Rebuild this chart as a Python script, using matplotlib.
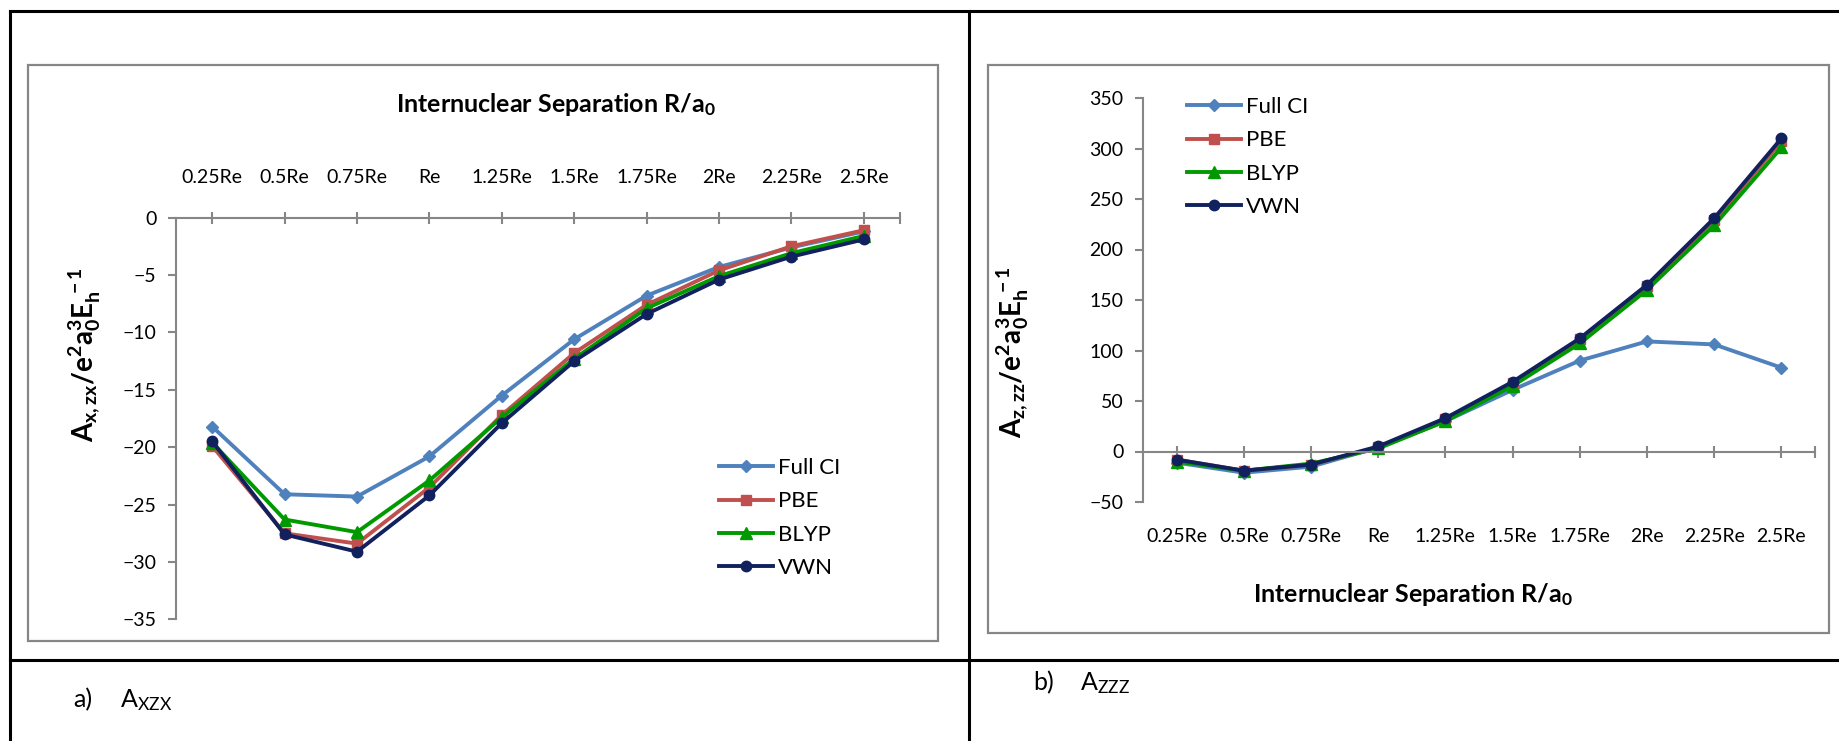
import matplotlib
matplotlib.use("Agg")
import matplotlib.pyplot as plt
from matplotlib.patches import Rectangle
from matplotlib.lines import Line2D

plt.rcParams['font.family'] = ['Lato', 'DejaVu Sans']
plt.rcParams['mathtext.fontset'] = 'custom'
plt.rcParams['mathtext.rm'] = 'Lato'
plt.rcParams['mathtext.it'] = 'Lato:italic'
plt.rcParams['mathtext.bf'] = 'Lato:bold'

# data
categories = ['0.25Re', '0.5Re', '0.75Re', 'Re', '1.25Re', '1.5Re', '1.75Re', '2Re', '2.25Re', '2.5Re']
series_names = ['Full CI', 'PBE', 'BLYP', 'VWN']

axzx_fullci = [-18.2, -24.1, -24.3, -20.8, -15.5, -10.6, -6.8, -4.3, -2.6, -1.2]
axzx_pbe = [-19.9, -27.5, -28.4, -23.5, -17.2, -11.8, -7.6, -4.6, -2.5, -1.1]
axzx_blyp = [-19.6, -26.3, -27.4, -22.9, -17.4, -12.3, -7.9, -5.1, -3.1, -1.6]
axzx_vwn = [-19.5, -27.6, -29.1, -24.2, -17.9, -12.5, -8.4, -5.4, -3.4, -1.9]

azzz_fullci = [-11, -21, -15, 4, 30, 61, 90, 109, 106, 83]
azzz_pbe = [-8, -19, -13, 4, 32, 68, 111, 164, 229, 307]
azzz_blyp = [-10, -19, -12, 3, 30, 65, 107, 160, 224, 301]
azzz_vwn = [-8, -19, -13, 5, 33, 69, 112, 165, 231, 310]

colors = ['#4F81BD', '#C0504D', '#009A00', '#10215E']
markers = ['D', 's', '^', 'o']
msizes = [6.5, 7, 8, 7.5]

W, H = 1840, 741
fig = plt.figure(figsize=(W / 100, H / 100), dpi=100)

def fx(x):
    return x / W

def fy(y):
    return 1 - y / H

# table lines
black = dict(color='black', lw=2.2, transform=fig.transFigure)
fig.add_artist(Line2D([fx(10), 1], [fy(11), fy(11)], **black))
fig.add_artist(Line2D([fx(10), 1], [fy(660), fy(660)], **black))
fig.add_artist(Line2D([fx(10), fx(10)], [fy(11), 0], **black))
fig.add_artist(Line2D([fx(969), fx(969)], [fy(11), 0], **black))

# chart frames
for x0, y0, x1, y1 in [(28, 65, 938, 641), (988, 65, 1829, 633)]:
    fig.add_artist(Rectangle((fx(x0), fy(y1)), fx(x1) - fx(x0), fy(y0) - fy(y1),
                             transform=fig.transFigure, fill=False,
                             edgecolor='#868686', lw=1.6))

gray = '#868686'
tick_fs = 14
leg_fs = 16
xpos = list(range(len(categories)))


def style_axes(ax):
    for s in ax.spines.values():
        s.set_color(gray)
        s.set_linewidth(1.5)
    ax.tick_params(axis='both', colors=gray, labelcolor='black', labelsize=tick_fs, width=1.5)
    ax.tick_params(axis='y', direction='out', length=6, pad=8)
    ax.tick_params(axis='x', direction='inout', length=9)


leg_kw = dict(loc='upper left', bbox_transform=fig.transFigure, frameon=False, fontsize=leg_fs,
              handlelength=2.45, handletextpad=0.22, labelspacing=0.6, borderpad=0,
              borderaxespad=0)

# ---- left chart: A_xzx
ax1 = fig.add_axes([fx(176), fy(619.4), fx(900) - fx(176), fy(217.6) - fy(619.4)])
left_series = [axzx_fullci, axzx_pbe, axzx_blyp, axzx_vwn]
for vals, name, c, m, ms in zip(left_series, series_names, colors, markers, msizes):
    ax1.plot(xpos, vals, color=c, lw=2.8, marker=m, markersize=ms, label=name)
ax1.set_xlim(-0.5, 9.5)
ax1.set_ylim(-35, 0)
ax1.set_yticks(range(-35, 1, 5))
ax1.xaxis.tick_top()
ax1.set_xticks(xpos + [9.5], categories + [''])
style_axes(ax1)
ax1.tick_params(axis='x', pad=18)
ax1.spines['bottom'].set_visible(False)
ax1.spines['right'].set_visible(False)
ax1.patch.set_alpha(0)
ax1.legend(bbox_to_anchor=(fx(719), fy(458)), **leg_kw)

fig.text(fx(556), fy(105), r'Internuclear Separation R/a$_\mathbf{0}$', ha='center', va='center',
         fontsize=18, fontweight='bold')
fig.text(fx(85), fy(355), r'$\mathbf{A_{x,zx}/e^{2}a_{0}^{3}E_{h}^{\ -1}}$', rotation=90,
         ha='center', va='center', fontsize=20)

# ---- right chart: A_zzz
ax2 = fig.add_axes([fx(1143), fy(502), fx(1815) - fx(1143), fy(98) - fy(502)])
right_series = [azzz_fullci, azzz_pbe, azzz_blyp, azzz_vwn]
for vals, name, c, m, ms in zip(right_series, series_names, colors, markers, msizes):
    ax2.plot(xpos, vals, color=c, lw=2.8, marker=m, markersize=ms, label=name)
ax2.set_xlim(-0.5, 9.5)
ax2.set_ylim(-50, 350)
ax2.set_yticks(range(-50, 351, 50))
ax2.set_xticks(xpos + [9.5], [''] * 11)
ax2.spines['bottom'].set_position(('data', 0))
style_axes(ax2)
ax2.spines['top'].set_visible(False)
ax2.spines['right'].set_visible(False)
ax2.patch.set_alpha(0)
sec = ax2.secondary_xaxis('bottom')
sec.set_xticks(xpos, categories)
sec.tick_params(length=0, labelsize=tick_fs, pad=19)
sec.spines['bottom'].set_visible(False)
ax2.legend(bbox_to_anchor=(fx(1187), fy(97)), **leg_kw)

fig.text(fx(1413), fy(594), r'Internuclear Separation R/a$_\mathbf{0}$', ha='center', va='center',
         fontsize=18, fontweight='bold')
fig.text(fx(1013), fy(352), r'$\mathbf{A_{z,zz}/e^{2}a_{0}^{3}E_{h}^{\ -1}}$', rotation=90,
         ha='center', va='center', fontsize=20)

# captions
fig.text(fx(73), fy(700), 'a)', ha='left', va='center', fontsize=18)
fig.text(fx(120), fy(700), r'A$_{\mathrm{XZX}}$', ha='left', va='center', fontsize=18)
fig.text(fx(1033), fy(683), 'b)', ha='left', va='center', fontsize=18)
fig.text(fx(1080), fy(683), r'A$_{\mathrm{ZZZ}}$', ha='left', va='center', fontsize=18)

fig.savefig('out.png', dpi=100)
